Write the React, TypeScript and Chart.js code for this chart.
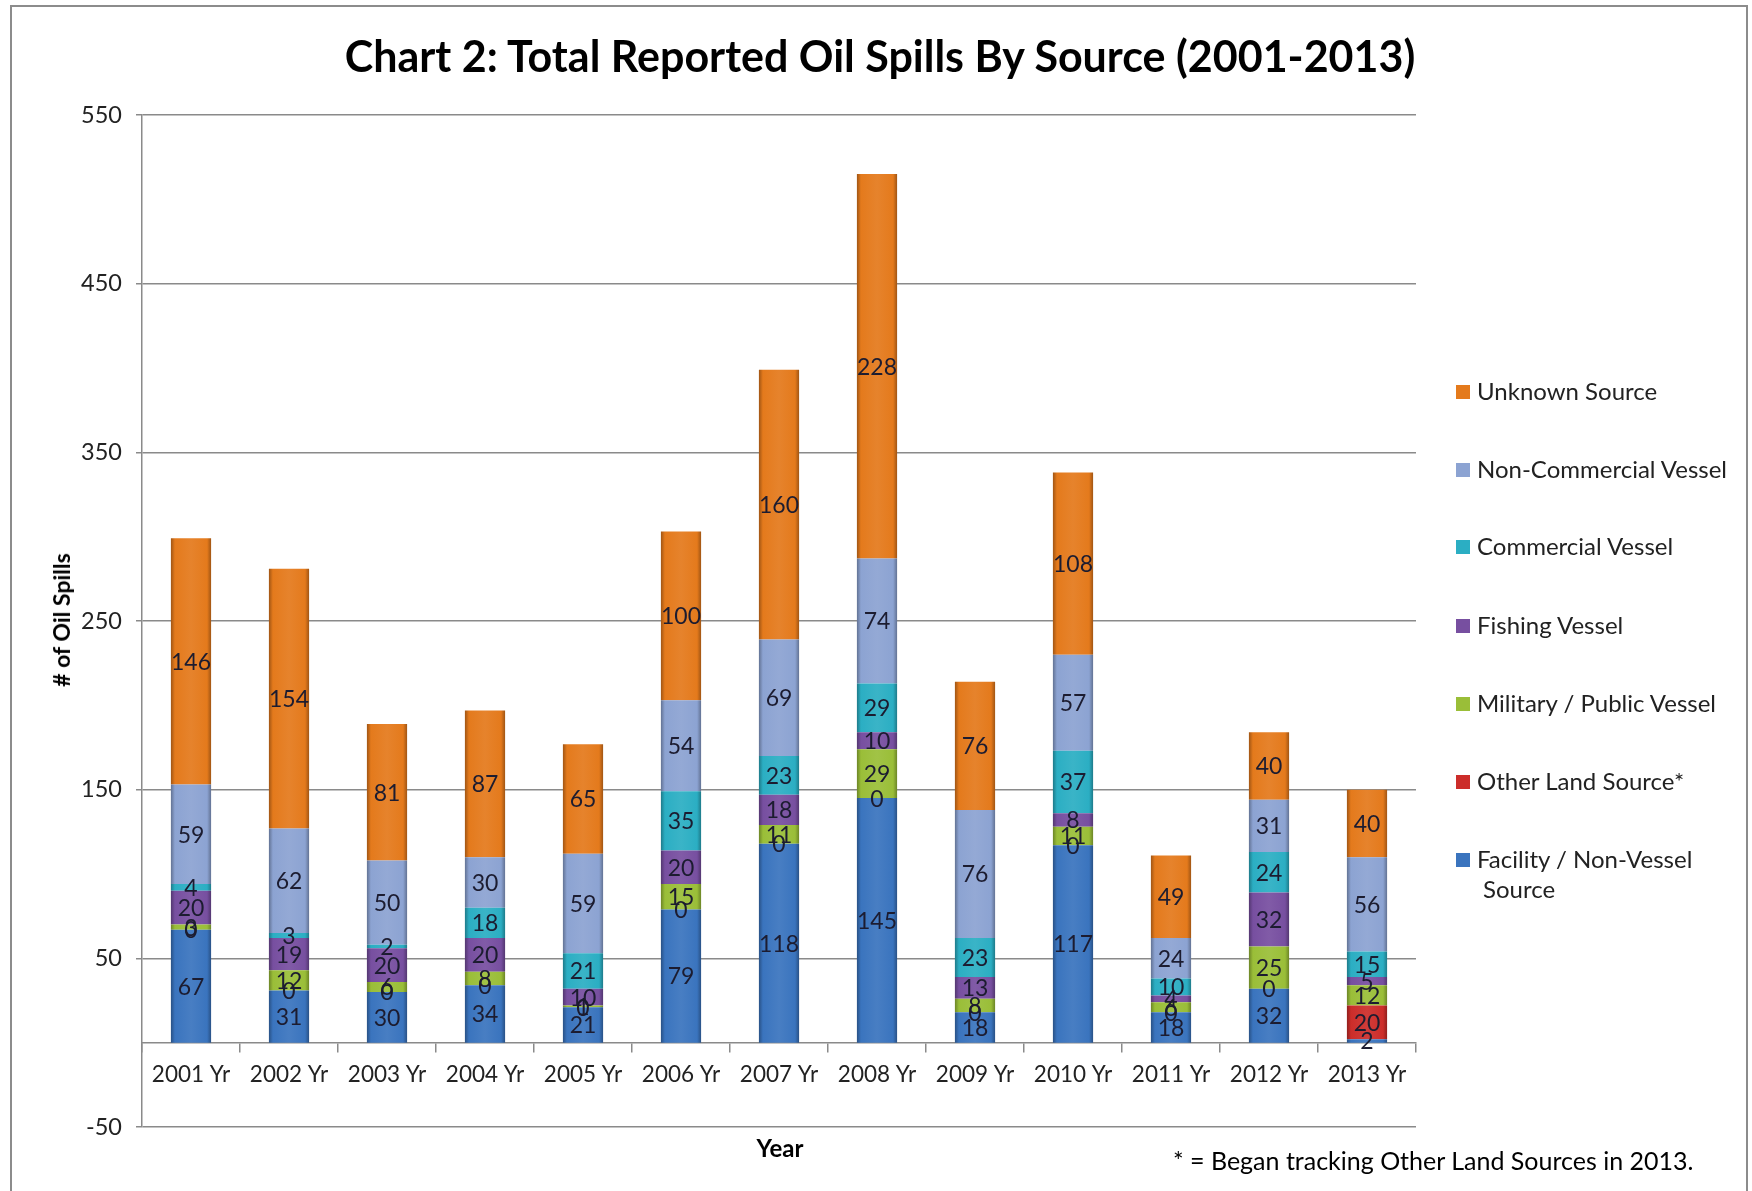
import React, { useEffect, useRef } from "react";
import { Chart, registerables } from "chart.js";

Chart.register(...registerables);

// ---- Data ----
const years = ["2001 Yr", "2002 Yr", "2003 Yr", "2004 Yr", "2005 Yr", "2006 Yr", "2007 Yr", "2008 Yr", "2009 Yr", "2010 Yr", "2011 Yr", "2012 Yr", "2013 Yr"];
const facility = [67, 31, 30, 34, 21, 79, 118, 145, 18, 117, 18, 32, 2];
const otherLand = [0, 0, 0, 0, 0, 0, 0, 0, 0, 0, 0, 0, 20];
const military = [3, 12, 6, 8, 1, 15, 11, 29, 8, 11, 6, 25, 12];
const fishing = [20, 19, 20, 20, 10, 20, 18, 10, 13, 8, 4, 32, 5];
const commercial = [4, 3, 2, 18, 21, 35, 23, 29, 23, 37, 10, 24, 15];
const nonCommercial = [59, 62, 50, 30, 59, 54, 69, 74, 76, 57, 24, 31, 56];
const unknown = [146, 154, 81, 87, 65, 100, 160, 228, 76, 108, 49, 40, 40];
const yMin = -50;
const yMax = 550;
const yStep = 100;

const seriesNames = ["Facility / Non-Vessel Source", "Other Land Source*", "Military / Public Vessel", "Fishing Vessel", "Commercial Vessel", "Non-Commercial Vessel", "Unknown Source"];
const seriesValues = [facility, otherLand, military, fishing, commercial, nonCommercial, unknown];
const seriesColors = ["#3A74BE", "#CC2D2A", "#9ABE38", "#774FA0", "#2BAEC3", "#8CA3D2", "#E47A1C"];

const BAR_FRACTION = 0.41;
const FONT = "Lato, 'Open Sans', sans-serif";

function shade(hex: string, f: number): string {
  const n = parseInt(hex.slice(1), 16);
  let r = (n >> 16) & 255, g = (n >> 8) & 255, b = n & 255;
  if (f < 0) {
    r = Math.round(r * (1 + f)); g = Math.round(g * (1 + f)); b = Math.round(b * (1 + f));
  } else {
    r = Math.round(r + (255 - r) * f); g = Math.round(g + (255 - g) * f); b = Math.round(b + (255 - b) * f);
  }
  return `rgb(${r},${g},${b})`;
}

function makeBg(base: string) {
  return (ctx: any) => {
    const chart = ctx.chart;
    const xs = chart.scales && chart.scales.x;
    if (!chart.chartArea || !xs || ctx.type !== "data") return base;
    const cx = xs.getPixelForValue(ctx.dataIndex);
    const half = ((xs.width / years.length) * BAR_FRACTION) / 2;
    if (!isFinite(cx) || !isFinite(half) || half <= 0) return base;
    const g = chart.ctx.createLinearGradient(cx - half, 0, cx + half, 0);
    g.addColorStop(0, shade(base, -0.3));
    g.addColorStop(0.1, base);
    g.addColorStop(0.5, shade(base, 0.07));
    g.addColorStop(0.9, base);
    g.addColorStop(1, shade(base, -0.3));
    return g;
  };
}

const labelPlugin = {
  id: "segmentLabels",
  afterDatasetsDraw(chart: any) {
    const ctx = chart.ctx;
    ctx.save();
    ctx.font = `23px ${FONT}`;
    ctx.fillStyle = "#1c1c30";
    ctx.textAlign = "center";
    ctx.textBaseline = "middle";
    chart.data.datasets.forEach((ds: any, di: number) => {
      const meta = chart.getDatasetMeta(di);
      meta.data.forEach((el: any, i: number) => {
        const p = el.getProps(["x", "y", "base"], true);
        const v = ds.data[i];
        ctx.fillText(String(v), p.x, (p.y + p.base) / 2 + 1);
      });
    });
    ctx.restore();
  },
};

export default function App() {
  const ref = useRef<HTMLCanvasElement>(null);

  useEffect(() => {
    const canvas = ref.current;
    if (!canvas) return;
    const chart = new Chart(canvas, {
      type: "bar",
      data: {
        labels: years,
        datasets: seriesNames.map((name, i) => ({
          label: name,
          data: seriesValues[i],
          backgroundColor: makeBg(seriesColors[i]),
          borderWidth: 0,
          barPercentage: BAR_FRACTION,
          categoryPercentage: 1.0,
        })),
      },
      options: {
        animation: false,
        responsive: false,
        devicePixelRatio: 1,
        layout: { padding: { left: 0, right: 336, top: 115, bottom: 64 } },
        plugins: {
          legend: { display: false },
          title: { display: false },
          tooltip: { enabled: false },
        },
        scales: {
          x: {
            stacked: true,
            position: { y: 0 } as any,
            grid: {
              display: true,
              drawOnChartArea: false,
              drawTicks: true,
              tickLength: 9,
              color: "#8a8a8a",
              lineWidth: 1.5,
            },
            border: { display: true, color: "#8a8a8a", width: 1.5 },
            ticks: {
              font: { family: FONT, size: 22.5 },
              color: "#222",
              padding: 10,
              maxRotation: 0,
              autoSkip: false,
            },
          },
          y: {
            stacked: true,
            min: yMin,
            max: yMax,
            afterFit: (scale: any) => {
              scale.width = 142;
            },
            ticks: {
              stepSize: yStep,
              font: { family: FONT, size: 23.5 },
              color: "#222",
              padding: 14,
            },
            grid: {
              color: "#8a8a8a",
              lineWidth: 1.5,
              tickLength: 6,
            },
            border: { display: true, color: "#8a8a8a", width: 1.5 },
          },
        },
      },
      plugins: [labelPlugin],
    });
    return () => chart.destroy();
  }, []);

  const legendRows = [
    { i: 6, y: 391 },
    { i: 5, y: 469 },
    { i: 4, y: 546 },
    { i: 3, y: 625 },
    { i: 2, y: 703 },
    { i: 1, y: 781 },
    { i: 0, y: 859 },
  ];

  return (
    <div
      style={{
        position: "absolute",
        left: 0,
        top: 0,
        width: 1752,
        height: 1191,
        overflow: "hidden",
        background: "#fff",
        fontFamily: FONT,
        color: "#111",
      }}
    >
      <div
        style={{
          position: "absolute",
          left: 10,
          top: 5,
          width: 1738,
          height: 1200,
          border: "2px solid #8c8c8c",
          boxSizing: "border-box",
        }}
      />
      <canvas ref={ref} width={1752} height={1191} style={{ position: "absolute", left: 0, top: 0, width: 1752, height: 1191 }} />

      <div
        style={{
          position: "absolute",
          left: 0,
          width: 1760,
          top: 28,
          textAlign: "center",
          fontSize: 43,
          fontWeight: 700,
          lineHeight: "56px",
          color: "#000",
        }}
      >
        Chart 2: Total Reported Oil Spills By Source (2001-2013)
      </div>

      <div
        style={{
          position: "absolute",
          left: 61,
          top: 620,
          transform: "translate(-50%, -50%) rotate(-90deg)",
          whiteSpace: "nowrap",
          fontSize: 23,
          fontWeight: 700,
          color: "#000",
        }}
      >
        # of Oil Spills
      </div>

      <div
        style={{
          position: "absolute",
          left: 780,
          top: 1147,
          transform: "translate(-50%, -50%)",
          whiteSpace: "nowrap",
          fontSize: 24,
          fontWeight: 700,
          color: "#000",
        }}
      >
        Year
      </div>

      <div
        style={{
          position: "absolute",
          left: 1173,
          top: 1160,
          transform: "translateY(-50%)",
          whiteSpace: "nowrap",
          fontSize: 25,
          color: "#000",
        }}
      >
        * = Began tracking Other Land Sources in 2013.
      </div>

      {legendRows.map(({ i, y }) => (
        <div key={i} style={{ position: "absolute", left: 1456, top: y - 15, whiteSpace: "nowrap", fontSize: 24, lineHeight: "30px", color: "#222" }}>
          <span
            style={{
              position: "absolute",
              left: 0,
              top: 9,
              width: 14,
              height: 14,
              background: seriesColors[i],
            }}
          />
          <span style={{ position: "absolute", left: 21, top: 0 }}>
            {i === 0 ? (
              <>
                Facility / Non-Vessel
                <br />
                <span style={{ marginLeft: 6 }}>Source</span>
              </>
            ) : (
              seriesNames[i]
            )}
          </span>
        </div>
      ))}
    </div>
  );
}
